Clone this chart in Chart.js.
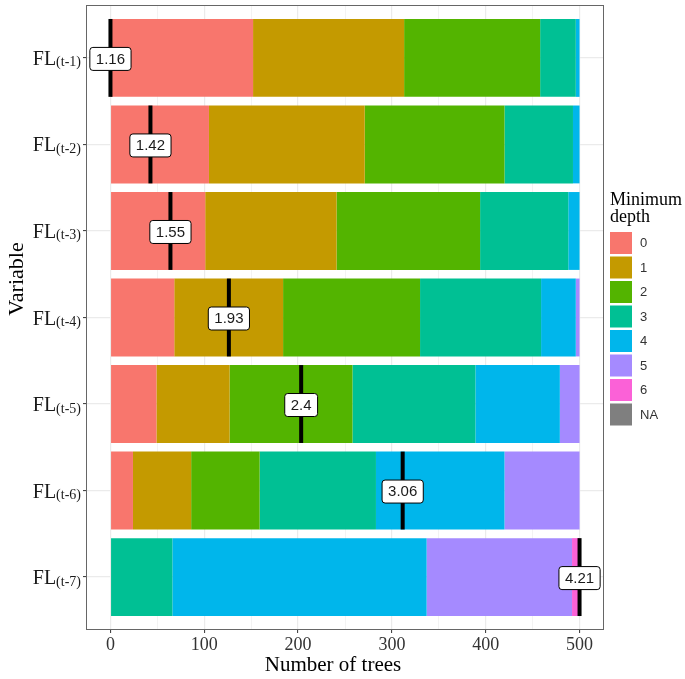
<!DOCTYPE html>
<html>
<head>
<meta charset="utf-8">
<script src="https://cdn.jsdelivr.net/npm/chart.js@4.4.0/dist/chart.umd.min.js"></script>
<style>
  html, body { margin: 0; padding: 0; background: #fff; }
</style>
</head>
<body>
<canvas id="depthChart" width="685" height="679"></canvas>
<script>
// Variables (top to bottom) and mean minimal depth shown in the labels
const variables = ['FL(t-1)', 'FL(t-2)', 'FL(t-3)', 'FL(t-4)', 'FL(t-5)', 'FL(t-6)', 'FL(t-7)'];
const meanDepth = [1.16, 1.42, 1.55, 1.93, 2.4, 3.06, 4.21];
const nTrees = 500;

// Number of trees per minimum depth level, one array per level
const depthLevels = ['0', '1', '2', '3', '4', '5', '6', 'NA'];
const depth0 = [152, 105, 101, 68, 49, 24, 0];
const depth1 = [161, 166, 140, 116, 78, 62, 0];
const depth2 = [145, 149, 153, 146, 131, 73, 0];
const depth3 = [38, 73, 94, 129, 131, 124, 66];
const depth4 = [4, 7, 12, 37, 90, 137, 271];
const depth5 = [0, 0, 0, 4, 21, 80, 155];
const depth6 = [0, 0, 0, 0, 0, 0, 8];
const depthNA = [0, 0, 0, 0, 0, 0, 0];
const xTicks = [0, 50, 100, 150, 200, 250, 300, 350, 400, 450, 500];

const levelColors = ['#F8766D', '#C49A00', '#53B400', '#00C094', '#00B6EB', '#A58AFF', '#FB61D7', '#7F7F7F'];
const counts = [depth0, depth1, depth2, depth3, depth4, depth5, depth6, depthNA];

const SERIF = '"Liberation Serif", "Times New Roman", serif';
const SANS = '"Liberation Sans", Arial, sans-serif';

const datasets = depthLevels.map((lvl, k) => ({
  label: lvl,
  data: counts[k].map((v, i) => ({ x: v, y: i + 1 })),
  backgroundColor: levelColors[k],
  borderWidth: 0,
  barPercentage: 0.9,
  categoryPercentage: 1.0
}));

// mean depth markers, axis texts, panel border and legend
const overlay = {
  id: 'overlay',
  afterDatasetsDraw(chart) {
    const { ctx, scales: { x, y } } = chart;
    const lo = Math.min(...meanDepth), hi = Math.max(...meanDepth);
    ctx.save();
    meanDepth.forEach((m, i) => {
      const px = x.getPixelForValue((m - lo) / (hi - lo) * nTrees);
      const a = y.getPixelForValue(i + 1 - 0.45);
      const b = y.getPixelForValue(i + 1 + 0.45);
      const top = Math.min(a, b), h = Math.abs(b - a);
      ctx.fillStyle = '#000';
      ctx.fillRect(px - 2, top, 4, h);

      const cy = y.getPixelForValue(i + 1);
      const txt = String(m);
      ctx.font = '15px ' + SANS;
      const w = ctx.measureText(txt).width + 12, bh = 23;
      ctx.beginPath();
      ctx.roundRect(px - w / 2, cy - bh / 2 + 1, w, bh, 3);
      ctx.fillStyle = '#fff';
      ctx.fill();
      ctx.lineWidth = 1;
      ctx.strokeStyle = '#000';
      ctx.stroke();
      ctx.fillStyle = '#1a1a1a';
      ctx.textAlign = 'center';
      ctx.textBaseline = 'middle';
      ctx.fillText(txt, px, cy + 1.5);
    });
    ctx.restore();
  },
  afterDraw(chart) {
    const { ctx, chartArea: ca, scales: { y } } = chart;
    ctx.save();
    // panel border
    ctx.strokeStyle = '#666';
    ctx.lineWidth = 1;
    ctx.strokeRect(ca.left - 0.5, ca.top - 0.5, ca.right - ca.left + 1, ca.bottom - ca.top + 1);

    // y tick labels: FL with subscript
    ctx.fillStyle = '#1a1a1a';
    ctx.textBaseline = 'alphabetic';
    variables.forEach((v, i) => {
      const cy = y.getPixelForValue(i + 1);
      const base = v.slice(0, v.indexOf('('));
      const sub = v.slice(v.indexOf('('));
      const right = ca.left - 6;
      ctx.font = '14px ' + SERIF;
      const sw = ctx.measureText(sub).width;
      ctx.textAlign = 'left';
      ctx.fillText(sub, right - sw, cy + 8.5);
      ctx.font = '20px ' + SERIF;
      ctx.textAlign = 'right';
      ctx.fillText(base, right - sw, cy + 7);
    });

    // axis titles
    ctx.fillStyle = '#000';
    ctx.font = '21px ' + SERIF;
    ctx.textAlign = 'center';
    ctx.textBaseline = 'middle';
    ctx.fillText('Number of trees', 333, 665);
    ctx.save();
    ctx.translate(17, 279);
    ctx.rotate(-Math.PI / 2);
    ctx.font = '22px ' + SERIF;
    ctx.fillText('Variable', 0, 0);
    ctx.restore();

    // legend
    const lx = 610;
    ctx.textAlign = 'left';
    ctx.textBaseline = 'alphabetic';
    ctx.font = '18px ' + SERIF;
    ctx.fillStyle = '#000';
    ctx.fillText('Minimum', lx, 205);
    ctx.fillText('depth', lx, 222);
    ctx.font = '13px ' + SANS;
    ctx.textBaseline = 'middle';
    depthLevels.forEach((lvl, k) => {
      const ky = 232 + k * 24.5;
      ctx.fillStyle = levelColors[k];
      ctx.fillRect(lx, ky, 22, 22);
      ctx.fillStyle = '#333';
      ctx.fillText(lvl, lx + 30, ky + 11.5);
    });
    ctx.restore();
  }
};

new Chart(document.getElementById('depthChart'), {
  type: 'bar',
  data: { datasets },
  options: {
    indexAxis: 'y',
    responsive: false,
    animation: false,
    layout: { padding: { top: 6, right: 82, left: 0, bottom: 0 } },
    plugins: { legend: { display: false }, tooltip: { enabled: false } },
    scales: {
      x: {
        type: 'linear',
        stacked: true,
        min: -25,
        max: 525,
        afterBuildTicks: s => { s.ticks = xTicks.map(v => ({ value: v })); },
        afterFit: s => { s.height = 50; },
        border: { display: false },
        grid: {
          color: '#EBEBEB',
          lineWidth: c => (c.tick && c.tick.value % 100 === 0) ? 1.2 : 0.6,
          tickColor: c => (c.tick && c.tick.value % 100 === 0) ? '#333' : 'rgba(0,0,0,0)',
          tickLength: 4,
          tickWidth: 1
        },
        ticks: {
          autoSkip: false,
          maxRotation: 0,
          padding: 1,
          color: '#333',
          font: { family: SERIF, size: 18 },
          callback: v => (v % 100 === 0 ? v : '')
        }
      },
      y: {
        type: 'linear',
        stacked: true,
        reverse: true,
        offset: false,
        min: 0.4,
        max: 7.6,
        afterBuildTicks: s => { s.ticks = variables.map((v, i) => ({ value: i + 1 })); },
        afterFit: s => { s.width = 87; },
        border: { display: false },
        grid: {
          offset: false,
          color: '#EBEBEB',
          lineWidth: 1.2,
          tickColor: '#333',
          tickLength: 4,
          tickWidth: 1
        },
        ticks: { display: false }
      }
    }
  },
  plugins: [overlay]
});
</script>
</body>
</html>
